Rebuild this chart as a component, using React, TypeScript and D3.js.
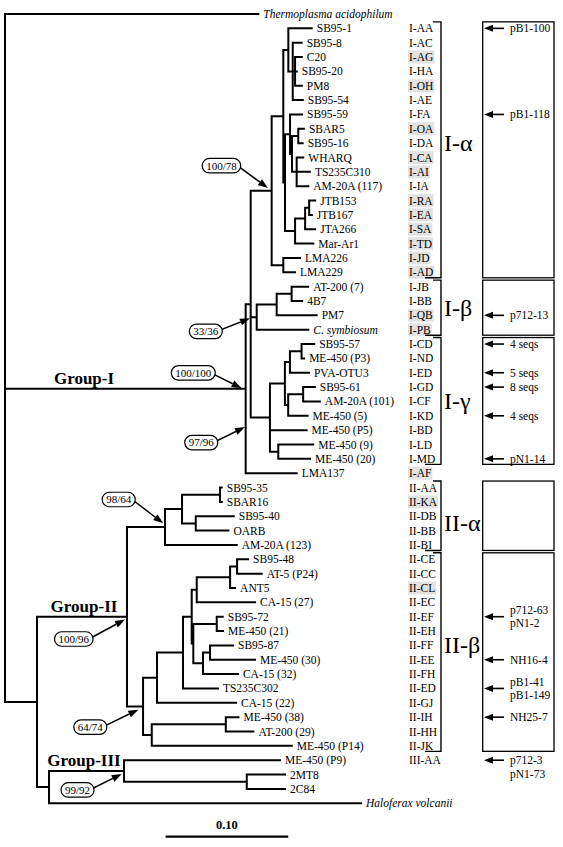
import React, { useMemo } from 'react';
import * as d3 from 'd3';

const W = 563;
const H = 847;
const FONT = '"Liberation Serif", "Times New Roman", serif';

// Tree: [node, parent, branch length (substitutions/site)]
const branches: [string, string, number][] = [
  ['root', '', 0],
  ['Thermoplasma acidophilum', 'root', 0.2066],
  ['G1', 'root', 0.1963],
  ['N1', 'G1', 0.0041],
  ['Ia', 'N1', 0.0171],
  ['aCore', 'Ia', 0.0095],
  ['a1', 'aCore', 0.0041],
  ['SB95-1', 'a1', 0.0191],
  ['a1b', 'a1', 0.0036],
  ['SB95-8', 'a1b', 0.0073],
  ['a1c', 'a1b', 0.0019],
  ['C20', 'a1c', 0.0055],
  ['SB95-20', 'a1c', 0.0014],
  ['PM8', 'a1c', 0.0055],
  ['SB95-54', 'a1b', 0.0082],
  ['a2', 'aCore', 0.0014],
  ['a2a', 'a2', 0.0041],
  ['SB95-59', 'a2a', 0.0098],
  ['a2b', 'a2a', 0.0016],
  ['a2c', 'a2b', 0.0051],
  ['SBAR5', 'a2c', 0.0046],
  ['SB95-16', 'a2c', 0.0036],
  ['a2d', 'a2b', 0.0038],
  ['WHARQ', 'a2d', 0.0054],
  ['TS235C310', 'a2d', 0.0108],
  ['AM-20A (117)', 'a2d', 0.0095],
  ['J3', 'a2', 0.0082],
  ['J2', 'J3', 0.0082],
  ['J1', 'J2', 0.0033],
  ['JTB153', 'J1', 0.0049],
  ['JTB167', 'J1', 0.0022],
  ['JTA266', 'J2', 0.0082],
  ['Mar-Ar1', 'J3', 0.0149],
  ['LMA', 'Ia', 0.0095],
  ['LMA226', 'LMA', 0.0136],
  ['LMA229', 'LMA', 0.0095],
  ['Ib', 'N1', 0.0049],
  ['b1', 'Ib', 0.0163],
  ['b2', 'b1', 0.0122],
  ['AT-200 (7)', 'b2', 0.0135],
  ['4B7', 'b2', 0.0086],
  ['PM7', 'b1', 0.0326],
  ['C. symbiosum', 'Ib', 0.0421],
  ['g7', 'N1', 0.0157],
  ['g5', 'g7', 0.0122],
  ['g2', 'g5', 0.0041],
  ['g1', 'g2', 0.0095],
  ['SB95-57', 'g1', 0.0103],
  ['ME-450 (P3)', 'g1', 0.0021],
  ['PVA-OTU3', 'g2', 0.0155],
  ['g4', 'g5', 0.0027],
  ['g3', 'g4', 0.0122],
  ['SB95-61', 'g3', 0.0095],
  ['AM-20A (101)', 'g3', 0.0136],
  ['ME-450 (5)', 'g4', 0.0158],
  ['ME-450 (P5)', 'g7', 0.0299],
  ['g6', 'g7', 0.0068],
  ['ME-450 (9)', 'g6', 0.0285],
  ['ME-450 (20)', 'g6', 0.0259],
  ['LMA137', 'G1', 0.0416],
  ['N37', 'root', 0.0261],
  ['G2', 'N37', 0.0734],
  ['K', 'G2', 0.031],
  ['L', 'K', 0.0139],
  ['M', 'L', 0.031],
  ['SB95-35', 'M', 0.0014],
  ['SBAR16', 'M', 0.0014],
  ['N', 'L', 0.0112],
  ['SB95-40', 'N', 0.031],
  ['OARB', 'N', 0.0266],
  ['AM-20A (123)', 'K', 0.0585],
  ['A', 'G2', 0.0131],
  ['B', 'A', 0.0114],
  ['C', 'B', 0.0212],
  ['C1', 'C', 0.0071],
  ['D', 'C1', 0.0041],
  ['E', 'D', 0.0272],
  ['F', 'E', 0.0057],
  ['SB95-48', 'F', 0.009],
  ['AT-5 (P24)', 'F', 0.0201],
  ['ANT5', 'E', 0.0041],
  ['CA-15 (27)', 'D', 0.0476],
  ['C2', 'C1', 0.0013],
  ['G', 'C2', 0.0191],
  ['SB95-72', 'G', 0.0049],
  ['ME-450 (21)', 'G', 0.0051],
  ['H', 'C2', 0.0079],
  ['H1', 'H', 0.0057],
  ['SB95-87', 'H1', 0.0188],
  ['ME-450 (30)', 'H1', 0.0367],
  ['CA-15 (32)', 'H', 0.0285],
  ['TS235C302', 'C', 0.0285],
  ['CA-15 (22)', 'B', 0.0644],
  ['I', 'A', 0.0071],
  ['J', 'I', 0.0604],
  ['ME-450 (38)', 'J', 0.0103],
  ['AT-200 (29)', 'J', 0.0225],
  ['ME-450 (P14)', 'I', 0.1142],
  ['P', 'N37', 0.0098],
  ['Q', 'P', 0.0612],
  ['ME-450 (P9)', 'Q', 0.1272],
  ['R', 'Q', 0.1001],
  ['2MT8', 'R', 0.0312],
  ['2C84', 'R', 0.0312],
  ['Haloferax volcanii', 'P', 0.2545],
];

const italicLeaves = ['Thermoplasma acidophilum', 'C. symbiosum', 'Haloferax volcanii'];

// Leaf -> sequence code
const leafCodes: [string, string][] = [
  ['SB95-1', 'I-AA'], ['SB95-8', 'I-AC'], ['C20', 'I-AG'], ['SB95-20', 'I-HA'],
  ['PM8', 'I-OH'], ['SB95-54', 'I-AE'], ['SB95-59', 'I-FA'], ['SBAR5', 'I-OA'],
  ['SB95-16', 'I-DA'], ['WHARQ', 'I-CA'], ['TS235C310', 'I-AI'], ['AM-20A (117)', 'I-IA'],
  ['JTB153', 'I-RA'], ['JTB167', 'I-EA'], ['JTA266', 'I-SA'], ['Mar-Ar1', 'I-TD'],
  ['LMA226', 'I-JD'], ['LMA229', 'I-AD'], ['AT-200 (7)', 'I-JB'], ['4B7', 'I-BB'],
  ['PM7', 'I-QB'], ['C. symbiosum', 'I-PB'], ['SB95-57', 'I-CD'], ['ME-450 (P3)', 'I-ND'],
  ['PVA-OTU3', 'I-ED'], ['SB95-61', 'I-GD'], ['AM-20A (101)', 'I-CF'], ['ME-450 (5)', 'I-KD'],
  ['ME-450 (P5)', 'I-BD'], ['ME-450 (9)', 'I-LD'], ['ME-450 (20)', 'I-MD'], ['LMA137', 'I-AF'],
  ['SB95-35', 'II-AA'], ['SBAR16', 'II-KA'], ['SB95-40', 'II-DB'], ['OARB', 'II-BB'],
  ['AM-20A (123)', 'II-BI'], ['SB95-48', 'II-CE'], ['AT-5 (P24)', 'II-CC'], ['ANT5', 'II-CL'],
  ['CA-15 (27)', 'II-EC'], ['SB95-72', 'II-EF'], ['ME-450 (21)', 'II-EH'], ['SB95-87', 'II-FF'],
  ['ME-450 (30)', 'II-EE'], ['CA-15 (32)', 'II-FH'], ['TS235C302', 'II-ED'], ['CA-15 (22)', 'II-GJ'],
  ['ME-450 (38)', 'II-IH'], ['AT-200 (29)', 'II-HH'], ['ME-450 (P14)', 'II-JK'], ['ME-450 (P9)', 'III-AA'],
];

const shadedCodes = [
  'I-AG', 'I-OH', 'I-OA', 'I-CA', 'I-AI', 'I-RA', 'I-EA', 'I-SA', 'I-TD', 'I-JD', 'I-AD',
  'I-QB', 'I-PB', 'I-AF', 'II-KA', 'II-CL',
];

// Clades: label, first leaf, last leaf, rows the label sits between
const cladeNames = ['I-α', 'I-β', 'I-γ', 'II-α', 'II-β'];
const cladeFirst = ['SB95-1', 'AT-200 (7)', 'SB95-57', 'SB95-35', 'SB95-48'];
const cladeLast = ['LMA229', 'C. symbiosum', 'ME-450 (20)', 'AM-20A (123)', 'ME-450 (P14)'];
const cladeLabelRows = [
  ['SB95-16', 'SB95-16'], ['4B7', 'PM7'], ['AM-20A (101)', 'AM-20A (101)'],
  ['SB95-40', 'OARB'], ['SB95-87', 'SB95-87'],
];

// Sequence annotations in the right-hand boxes: leaf row, lines, anchoring
const seqLeaf = [
  'SB95-1', 'SB95-59', 'PM7', 'SB95-57', 'PVA-OTU3', 'SB95-61', 'ME-450 (5)', 'ME-450 (20)',
  'SB95-72', 'ME-450 (30)', 'TS235C302', 'ME-450 (38)', 'ME-450 (P9)',
];
const seqText = [
  ['pB1-100'], ['pB1-118'], ['p712-13'], ['4 seqs'], ['5 seqs'], ['8 seqs'], ['4 seqs'], ['pN1-14'],
  ['p712-63', 'pN1-2'], ['NH16-4'], ['pB1-41', 'pB1-149'], ['NH25-7'], ['p712-3', 'pN1-73'],
];
const seqTopAligned = ['ME-450 (P9)'];

// Bootstrap values (node, label)
const bootNodes = ['Ia', 'Ib', 'G1', 'g7', 'K', 'G2', 'A', 'Q'];
const bootValues = ['100/78', '33/36', '100/100', '97/96', '98/64', '100/96', '64/74', '99/92'];
// layout of the bootstrap callouts: arrow-tip offset from node, oval offset from tip
const bootTipOffset = [[-3.7, -2.7], [-6.7, 1.2], [-4, -0.5], [-25, 9.5], [-1.7, -3.7], [-2, 2.8], [-4.7, 3.3], [-2.3, 3]];
const bootOvalOffset = [[-46.5, -22.3], [-44.2, 13], [-48.4, -15.3], [-43.7, 15.5], [-44.6, -23.8], [-51.2, 19.5], [-48, 17.4], [-44.2, 16]];

const groupNodes = ['G1', 'G2', 'Q'];
const groupNames = ['Group-I', 'Group-II', 'Group-III'];

const scaleBarStart = 0.131;
const scaleBarLength = 0.1;
const scaleBarLabel = '0.10';

const charW: Record<string, number> = {
  I: 0.333, '-': 0.333, A: 0.722, B: 0.667, C: 0.667, D: 0.722, E: 0.611, F: 0.556, G: 0.722,
  H: 0.722, J: 0.389, K: 0.722, L: 0.611, M: 0.889, O: 0.722, P: 0.556, Q: 0.722, R: 0.667,
  S: 0.556, T: 0.611, '/': 0.278,
};
const textW = (s: string, fs: number) =>
  s.split('').reduce((a, c) => a + (charW[c] ?? 0.5), 0) * fs;

export default function App() {
  const layout = useMemo(() => {
    const root: any = d3
      .stratify<[string, string, number]>()
      .id((d) => d[0])
      .parentId((d) => (d[1] === '' ? null : d[1]))(branches);
    const xScale = d3.scaleLinear().domain([0, 0.45]).range([5, 5 + 0.45 * 1226]);
    const nLeaves = root.leaves().length;
    const yScale = d3.scaleLinear().domain([0, nLeaves - 1]).range([14, 14 + (nLeaves - 1) * 14.35]);
    root.eachBefore((n: any) => {
      n.dist = n.parent ? n.parent.dist + n.data[2] : 0;
      n.px = xScale(n.dist);
    });
    root.leaves().forEach((n: any, i: number) => {
      n.py = yScale(i);
    });
    root.eachAfter((n: any) => {
      if (n.children) n.py = (n.children[0].py + n.children[n.children.length - 1].py) / 2;
    });
    const byId = new Map<string, any>();
    root.descendants().forEach((n: any) => byId.set(n.id, n));
    let d = '';
    root.descendants().forEach((n: any) => {
      if (n.parent) d += `M${n.parent.px},${n.py}H${n.px}`;
      if (n.children) d += `M${n.px},${n.children[0].py}V${n.children[n.children.length - 1].py}`;
    });
    return { root, byId, d, xScale };
  }, []);

  const { root, byId, d, xScale } = layout;
  const codeX = 409;
  const brX = 441;
  const boxX0 = 482.7;
  const boxX1 = 554;

  return (
    <svg
      width={W}
      height={H}
      viewBox={`0 0 ${W} ${H}`}
      style={{ position: 'absolute', left: 0, top: 0, background: '#fff', display: 'block' }}
      fontFamily={FONT}
    >
      <rect x={0} y={0} width={W} height={H} fill="#fff" />
      {/* tree */}
      <path d={d} fill="none" stroke="#000" strokeWidth={2} strokeLinecap="square" />

      {/* leaf labels */}
      {root.leaves().map((n: any) => (
        <text
          key={n.id}
          x={n.px + 5}
          y={n.py}
          dy="0.35em"
          fontSize={11.5}
          fontStyle={italicLeaves.includes(n.id) ? 'italic' : 'normal'}
        >
          {n.id}
        </text>
      ))}

      {/* codes */}
      {leafCodes.map(([leaf, code]) => {
        const n = byId.get(leaf);
        const shaded = shadedCodes.includes(code);
        const w = textW(code, 11.5);
        return (
          <g key={code}>
            {shaded && <rect x={codeX - 1} y={n.py - 6.5} width={w + 2} height={13} fill="#e2e2e2" />}
            <text x={codeX} y={n.py} dy="0.35em" fontSize={11.5}>
              {code}
            </text>
          </g>
        );
      })}

      {/* clade brackets, labels and boxes */}
      {cladeNames.map((name, i) => {
        const y0 = byId.get(cladeFirst[i]).py - 6.5;
        const y1 = byId.get(cladeLast[i]).py + 5.5;
        const ly = (byId.get(cladeLabelRows[i][0]).py + byId.get(cladeLabelRows[i][1]).py) / 2;
        return (
          <g key={name}>
            <path
              d={`M${brX - 8},${y0}H${brX}V${y1}H${brX - 16}`}
              fill="none"
              stroke="#000"
              strokeWidth={1.4}
            />
            <text x={brX + 3} y={ly} dy="0.33em" fontSize={24}>
              {name}
            </text>
            <rect
              x={boxX0}
              y={y0}
              width={boxX1 - boxX0}
              height={y1 - y0}
              fill="none"
              stroke="#000"
              strokeWidth={1.3}
            />
          </g>
        );
      })}

      {/* sequence annotations */}
      {seqLeaf.map((leaf, i) => {
        const y = byId.get(leaf).py;
        const lines = seqText[i];
        const top = seqTopAligned.includes(leaf);
        const lh = 13.5;
        const startY = top ? y : y - ((lines.length - 1) * lh) / 2;
        return (
          <g key={leaf + i}>
            <line x1={491} y1={y} x2={504} y2={y} stroke="#000" strokeWidth={1.6} />
            <polygon points={`${484},${y} ${493},${y - 3.5} ${493},${y + 3.5}`} fill="#000" />
            {lines.map((t, j) => (
              <text key={j} x={510} y={startY + j * lh} dy="0.35em" fontSize={11.5}>
                {t}
              </text>
            ))}
          </g>
        );
      })}

      {/* bootstrap callouts */}
      {bootNodes.map((id, i) => {
        const n = byId.get(id);
        const tx = n.px + bootTipOffset[i][0];
        const ty = n.py + bootTipOffset[i][1];
        const cx = tx + bootOvalOffset[i][0];
        const cy = ty + bootOvalOffset[i][1];
        const w = textW(bootValues[i], 11) + 8;
        const h = 14.5;
        const sx = cx + w / 2 - 0.5;
        const sy = cy + (ty > cy ? 2 : -2);
        const ang = Math.atan2(ty - sy, tx - sx);
        const L = 10;
        const bx = tx - L * Math.cos(ang);
        const by = ty - L * Math.sin(ang);
        const px = -Math.sin(ang) * 3.6;
        const py = Math.cos(ang) * 3.6;
        return (
          <g key={id}>
            <line x1={sx} y1={sy} x2={bx} y2={by} stroke="#000" strokeWidth={1.5} />
            <polygon points={`${tx},${ty} ${bx + px},${by + py} ${bx - px},${by - py}`} fill="#000" />
            <rect
              x={cx - w / 2}
              y={cy - h / 2}
              width={w}
              height={h}
              rx={h / 2}
              fill="#fff"
              stroke="#000"
              strokeWidth={1.2}
            />
            <text x={cx} y={cy} dy="0.35em" fontSize={11} textAnchor="middle">
              {bootValues[i]}
            </text>
          </g>
        );
      })}

      {/* group labels */}
      {groupNodes.map((id, i) => {
        const n = byId.get(id);
        return (
          <text key={id} x={84} y={n.py - 5} fontSize={17} fontWeight="bold" textAnchor="middle">
            {groupNames[i]}
          </text>
        );
      })}

      {/* scale bar */}
      <line
        x1={xScale(scaleBarStart)}
        x2={xScale(scaleBarStart + scaleBarLength)}
        y1={836.7}
        y2={836.7}
        stroke="#000"
        strokeWidth={2.2}
      />
      <text
        x={(xScale(scaleBarStart) + xScale(scaleBarStart + scaleBarLength)) / 2}
        y={829}
        fontSize={12.5}
        fontWeight="bold"
        textAnchor="middle"
      >
        {scaleBarLabel}
      </text>
    </svg>
  );
}
